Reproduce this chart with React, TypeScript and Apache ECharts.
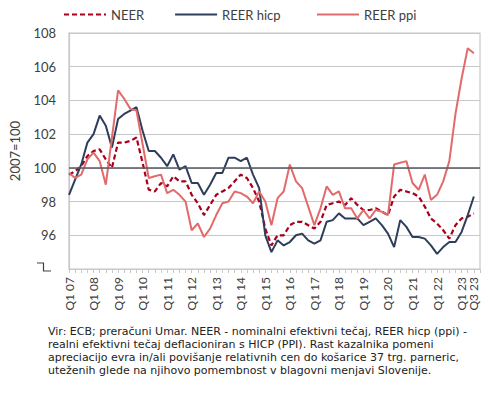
import React, { useEffect, useRef } from "react";
import * as echarts from "echarts";

const years = ["07","08","09","10","11","12","13","14","15","16","17","18","19","20","21","22","23"];
const quarterNames = ["Q1","Q2","Q3","Q4"];
const categories: string[] = [];
years.forEach((y) => quarterNames.forEach((q) => categories.push(q + " " + y)));

const neer = [
  99.6, 99.8, 100.1, 100.7, 101.0, 101.1, 100.5, 100.0, 101.5, 101.5, 101.6, 101.8,
  100.3, 98.7, 98.6, 99.1, 98.9, 99.5, 99.2, 99.2, 98.4, 97.9, 97.2, 97.8,
  98.4, 98.6, 98.8, 99.2, 99.6, 99.4, 98.8, 98.0, 96.4, 95.4, 96.0, 96.0,
  96.6, 96.8, 96.8, 96.6, 96.4, 96.8, 97.8, 97.9, 98.0, 97.8, 98.2, 97.8,
  97.5, 97.5, 97.6, 97.4, 97.2, 98.3, 98.7, 98.6, 98.5, 98.3, 97.7, 97.0,
  96.7, 96.3, 95.8, 96.6, 97.0, 97.1, 97.3,
];
const reerHicp = [
  98.4, 99.3, 100.2, 101.5, 102.0, 103.1, 102.5, 101.2, 102.9, 103.2, 103.4, 103.6,
  102.2, 101.0, 101.0, 100.6, 100.1, 100.8, 99.9, 100.1, 99.1, 99.1, 98.4, 99.0,
  99.7, 99.7, 100.6, 100.6, 100.4, 100.6, 99.6, 98.8, 96.0, 95.0, 95.7, 95.4,
  95.6, 96.0, 96.1, 95.7, 95.5, 95.7, 96.8, 96.9, 97.3, 97.0, 97.0, 97.0,
  96.6, 96.8, 97.0, 96.6, 96.1, 95.3, 96.9, 96.5, 95.9, 95.9, 95.8, 95.4,
  94.9, 95.3, 95.6, 95.6, 96.2, 97.2, 98.3,
];
const reerPpi = [
  99.7, 99.4, 99.6, 100.5, 100.9, 100.4, 99.0, 101.8, 104.6, 104.1, 103.5, 103.4,
  101.4, 99.4, 99.5, 99.6, 98.5, 98.7, 98.4, 98.0, 96.3, 96.7, 95.9, 96.4,
  97.2, 97.9, 98.0, 98.6, 98.5, 98.3, 97.9, 98.6, 98.0, 96.6, 98.2, 98.6,
  100.2, 99.2, 98.8, 97.7, 96.6, 97.6, 98.9, 98.4, 98.6, 97.6, 97.6, 97.0,
  97.5, 97.0, 97.5, 97.4, 97.2, 100.2, 100.3, 100.4, 99.1, 98.7, 99.6, 98.1,
  98.4, 99.2, 100.4, 103.2, 105.3, 107.1, 106.8,
];

const seriesNames = ["NEER", "REER hicp", "REER ppi"];
const yAxisName = "2007=100";
const noteLines = [
  "Vir: ECB; preračuni Umar. NEER - nominalni efektivni tečaj, REER hicp (ppi) -",
  "realni efektivni tečaj deflacioniran s HICP (PPI). Rast kazalnika pomeni",
  "apreciacijo evra in/ali povišanje relativnih cen do košarice 37 trg. parneric,",
  "uteženih glede na njihovo pomembnost v blagovni menjavi Slovenije.",
];

const FONT = "Lato, 'Open Sans', sans-serif";
const NOTE_FONT = "'DejaVu Sans', sans-serif";
const TEXT = "#404040";

const legendBase = {
  top: 3,
  itemWidth: 42,
  itemHeight: 12,
  itemGap: 30,
  itemStyle: { opacity: 0 },
  textStyle: { fontFamily: FONT, fontSize: 13, color: TEXT },
};

export default function App() {
  const ref = useRef<HTMLDivElement>(null);
  useEffect(() => {
    document.body.style.margin = "0";
    if (!ref.current) return;
    const chart = echarts.init(ref.current, null, { renderer: "svg" });
    chart.setOption({
      animation: false,
      textStyle: { fontFamily: FONT },
      legend: [
        { ...legendBase, left: 58, data: seriesNames.slice(0, 2) },
        { ...legendBase, left: 311, data: seriesNames.slice(2) },
      ],
      grid: {
        left: 62,
        right: 10,
        top: 33,
        bottom: 127,
        show: true,
        borderColor: "#c8c8c8",
        borderWidth: 1.2,
      },
      xAxis: {
        type: "category",
        data: categories,
        boundaryGap: false,
        axisLine: { lineStyle: { color: "#c8c8c8", width: 1.2 } },
        axisTick: { show: true, interval: 0, length: 4, lineStyle: { color: "#c8c8c8" } },
        axisLabel: {
          rotate: 90,
          interval: (idx: number, val: string) => idx % 4 === 0 || val === "Q3 23",
          fontSize: 12,
          fontFamily: FONT,
          color: TEXT,
          margin: 8,
        },
      },
      yAxis: {
        type: "value",
        min: 94,
        max: 108,
        interval: 2,
        name: yAxisName,
        nameLocation: "middle",
        nameGap: 48,
        nameTextStyle: { fontFamily: FONT, fontSize: 13, color: TEXT },
        axisLine: { show: true, lineStyle: { color: "#c8c8c8", width: 1.2 } },
        axisTick: { show: false },
        splitLine: { lineStyle: { color: "#c8c8c8", width: 1.2 } },
        axisLabel: {
          fontSize: 13,
          fontFamily: FONT,
          color: TEXT,
          margin: 13,
          formatter: (v: number) => (v === 94 ? "" : String(v)),
        },
      },
      series: [
        {
          name: seriesNames[0],
          type: "line",
          data: neer,
          symbol: "none",
          lineStyle: { color: "#A8001C", width: 2.2, type: [5, 3] },
          itemStyle: { color: "#A8001C" },
          markLine: {
            silent: true,
            symbol: "none",
            label: { show: false },
            lineStyle: { color: "#555a60", width: 1.5, type: "solid" },
            data: [{ yAxis: 100 }],
          },
        },
        {
          name: seriesNames[1],
          type: "line",
          data: reerHicp,
          symbol: "none",
          lineStyle: { color: "#2F3D5C", width: 2 },
          itemStyle: { color: "#2F3D5C" },
        },
        {
          name: seriesNames[2],
          type: "line",
          data: reerPpi,
          symbol: "none",
          lineStyle: { color: "#E26A6A", width: 2 },
          itemStyle: { color: "#E26A6A" },
        },
      ],
      graphic: [
        {
          type: "polyline",
          shape: { points: [[37, 263], [43.5, 263], [43.5, 271], [51, 271]] },
          style: { stroke: TEXT, lineWidth: 1.2, fill: "none" },
        },
        ...noteLines.map((t, i) => ({
          type: "text",
          left: 48,
          top: 326 + i * 12.9,
          style: {
            text: t,
            fontFamily: NOTE_FONT,
            fontSize: 11,
            fill: "#222",
          },
        })),
      ],
    });
    return () => chart.dispose();
  }, []);
  return <div ref={ref} style={{ width: 490, height: 396 }} />;
}
